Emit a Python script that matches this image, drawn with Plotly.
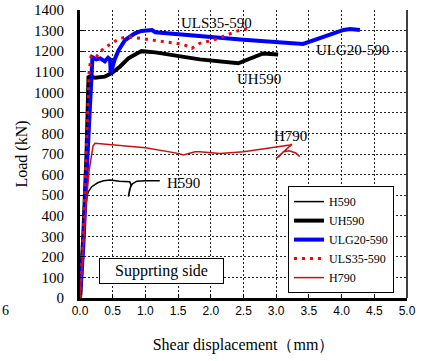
import plotly.graph_objects as go

# ---- data (shear displacement mm, load kN) ----
h590_x = [0, 0.04, 0.08, 0.11, 0.13, 0.18, 0.27, 0.36, 0.46, 0.6, 0.76, 0.78, 0.74, 0.76, 0.80, 0.87, 1.0, 1.22]
h590_y = [0, 250, 430, 500, 517, 541, 560, 570, 574, 568, 565, 550, 493, 530, 555, 568, 570, 570]

uh590_x = [0, 0.05, 0.1, 0.13, 0.15, 0.23, 0.38, 0.48, 0.61, 0.74, 0.87, 0.94, 1.15, 1.53, 1.83, 2.42, 2.6, 2.8, 3.03]
uh590_y = [0, 300, 700, 1073, 1076, 1071, 1076, 1092, 1124, 1165, 1189, 1200, 1194, 1173, 1160, 1141, 1165, 1189, 1184]

ulg_x = [0, 0.05, 0.1, 0.15, 0.19, 0.25, 0.31, 0.38, 0.43, 0.46, 0.47, 0.53, 0.59, 0.69, 0.84, 0.94, 1.05, 1.1, 1.15,
         1.5, 2.5, 3.41, 3.72, 4.03, 4.13, 4.28]
ulg_y = [0, 250, 600, 950, 1170, 1160, 1165, 1150, 1168, 1160, 1092, 1160, 1205, 1254, 1287, 1298, 1300, 1303, 1292,
         1282, 1255, 1235, 1270, 1303, 1308, 1303]

uls_x = [0, 0.05, 0.1, 0.14, 0.17, 0.25, 0.36, 0.48, 0.61, 0.74, 0.94, 1.25, 1.58, 1.71, 1.83, 2.04, 2.24, 2.45, 2.6]
uls_y = [0, 300, 750, 1100, 1180, 1173, 1214, 1238, 1262, 1270, 1262, 1246, 1233, 1214, 1238, 1254, 1278, 1303, 1311]

h790_x = [0, 0.05, 0.1, 0.14, 0.12, 0.18, 0.15, 0.2, 0.23, 1.0, 1.5, 1.58, 1.76, 1.83, 2.14, 2.5, 3.21, 3.24,
          3.0, 3.05, 3.11, 3.2, 3.3, 3.36]
h790_y = [0, 250, 480, 620, 580, 700, 640, 740, 752, 730, 703, 695, 711, 711, 703, 711, 744, 747,
          679, 690, 711, 716, 705, 687]

x_ticks = [0, 0.5, 1.0, 1.5, 2.0, 2.5, 3.0, 3.5, 4.0, 4.5, 5.0]
x_tick_labels = ["0.0", "0.5", "1.0", "1.5", "2.0", "2.5", "3.0", "3.5", "4.0", "4.5", "5.0"]
y_ticks = list(range(0, 1401, 100))

# curve labels: (text, x, y)
curve_labels = [("ULS35-590", 2.08, 1337), ("ULG20-590", 4.16, 1205), ("UH590", 2.74, 1065),
                ("H790", 3.22, 787), ("H590", 1.58, 557)]

SERIF = "Liberation Serif, Times New Roman, serif"

fig = go.Figure()
fig.add_trace(go.Scatter(x=h590_x, y=h590_y, mode="lines", name="H590",
                         line=dict(color="black", width=1.5)))
fig.add_trace(go.Scatter(x=uh590_x, y=uh590_y, mode="lines", name="UH590",
                         line=dict(color="black", width=4)))
fig.add_trace(go.Scatter(x=ulg_x, y=ulg_y, mode="lines", name="ULG20-590",
                         line=dict(color="#0000ff", width=4)))
fig.add_trace(go.Scatter(x=uls_x, y=uls_y, mode="lines", name="ULS35-590",
                         line=dict(color="#ff0000", width=3, dash="3px,5px")))
fig.add_trace(go.Scatter(x=h790_x, y=h790_y, mode="lines", name="H790",
                         line=dict(color="#cc1010", width=1.5)))

for t, x, y in curve_labels:
    fig.add_annotation(x=x, y=y, text=t, showarrow=False,
                       font=dict(family=SERIF, size=15, color="black"))

fig.add_annotation(x=1.25, y=131, text="Supprting side", showarrow=False,
                   font=dict(family=SERIF, size=16, color="black"),
                   bordercolor="black", borderwidth=1, borderpad=3, width=117,
                   bgcolor="white")

fig.add_annotation(xref="paper", yref="paper", x=-0.245, y=-0.076, xanchor="left",
                   text="6", showarrow=False, font=dict(family=SERIF, size=14, color="black"))

# right frame line
fig.add_shape(type="line", xref="paper", yref="paper", x0=1, x1=1, y0=0, y1=1,
              line=dict(color="black", width=1.5))

fig.update_layout(
    width=422, height=361,
    margin=dict(l=80, r=15, t=10, b=63),
    paper_bgcolor="white", plot_bgcolor="white",
    showlegend=True,
    legend=dict(x=0.636, y=0.017, xanchor="left", yanchor="bottom",
                bordercolor="black", borderwidth=1, bgcolor="white",
                font=dict(family=SERIF, size=12, color="black"),
                itemwidth=30, tracegroupgap=0),
    xaxis=dict(range=[0, 5], tickvals=x_ticks, ticktext=x_tick_labels, automargin=False,
               showgrid=True, gridcolor="#222", griddash="2px,2px", gridwidth=1,
               showline=True, linecolor="black", linewidth=3,
               ticks="inside", ticklen=4, tickcolor="black", ticklabeloverflow="allow",
               tickfont=dict(family="Liberation Sans, Arial, sans-serif", size=12, color="black"),
               title=dict(text="Shear displacement（mm）", standoff=22,
                          font=dict(family=SERIF, size=16, color="black")),
               zeroline=False),
    yaxis=dict(range=[0, 1400], tickvals=y_ticks, automargin=False,
               showgrid=True, gridcolor="#222", griddash="2px,2px", gridwidth=1,
               showline=True, linecolor="black", linewidth=3,
               ticks="inside", ticklen=4, tickcolor="black", ticklabelstandoff=10,
               ticklabeloverflow="allow",
               tickfont=dict(family=SERIF, size=15, color="black"),
               title=dict(text="Load (kN)", standoff=3,
                          font=dict(family=SERIF, size=16, color="black")),
               zeroline=False),
)

fig.write_html("out.html", config={"displayModeBar": False},
               post_script="document.body.style.margin='0';")
